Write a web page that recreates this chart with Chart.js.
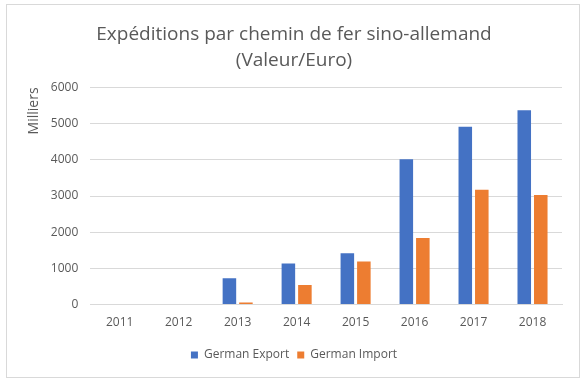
<!DOCTYPE html>
<html>
<head>
<meta charset="utf-8">
<script src="https://cdn.jsdelivr.net/npm/chart.js@4"></script>
<style>
    html, body { margin: 0; padding: 0; background: #fff; }
    #wrap { position: relative; width: 585px; height: 382px; }
    #frame {
        position: absolute; left: 6px; top: 4px; width: 572px; height: 372px;
        border: 1px solid #d9d9d9; pointer-events: none;
    }
</style>
</head>
<body>
<div id="wrap">
    <canvas id="chart" width="585" height="382"></canvas>
    <div id="frame"></div>
</div>
<script>
// Years on the x axis
const years = ['2011', '2012', '2013', '2014', '2015', '2016', '2017', '2018'];

// Values in thousands of euros
const germanExport = [null, null, 730, 1135, 1420, 4015, 4915, 5370];
const germanImport = [null, null, 55, 540, 1190, 1840, 3175, 3030];

const titleLines = ['Expéditions par chemin de fer sino-allemand', '(Valeur/Euro)'];
const yAxisTitle = 'Milliers';

const textColor = '#595959';
const fontFamily = '"Open Sans", sans-serif';

document.addEventListener('DOMContentLoaded', () => {
    const ctx = document.getElementById('chart');

    new Chart(ctx, {
        type: 'bar',
        data: {
            labels: years,
            datasets: [
                {
                    label: 'German Export',
                    data: germanExport,
                    backgroundColor: '#4472c4',
                    categoryPercentage: 0.56,
                    barPercentage: 0.82
                },
                {
                    label: 'German Import',
                    data: germanImport,
                    backgroundColor: '#ed7d31',
                    categoryPercentage: 0.56,
                    barPercentage: 0.82
                }
            ]
        },
        options: {
            responsive: false,
            animation: false,
            layout: { padding: { left: 26, right: 23, top: 0, bottom: 11 } },
            plugins: {
                title: {
                    display: true,
                    text: titleLines,
                    color: textColor,
                    font: { family: fontFamily, size: 19, weight: 'normal', lineHeight: 1.38 },
                    padding: { top: 21, bottom: 14 }
                },
                legend: {
                    position: 'bottom',
                    labels: {
                        color: textColor,
                        font: { family: fontFamily, size: 12 },
                        boxWidth: 7,
                        boxHeight: 7,
                        padding: 8
                    }
                },
                tooltip: { enabled: false }
            },
            scales: {
                x: {
                    grid: { display: false, drawTicks: false },
                    border: { color: '#d9d9d9' },
                    ticks: { color: textColor, font: { family: fontFamily, size: 12 }, padding: 11 }
                },
                y: {
                    min: 0,
                    max: 6000,
                    ticks: {
                        stepSize: 1000,
                        color: textColor,
                        font: { family: fontFamily, size: 12 },
                        padding: 12,
                        callback: value => String(value)
                    },
                    grid: { color: '#d9d9d9', drawTicks: false },
                    border: { display: false },
                    title: {
                        display: true,
                        text: yAxisTitle,
                        align: 'end',
                        color: textColor,
                        font: { family: fontFamily, size: 14 },
                        padding: { top: 0, bottom: -4 }
                    }
                }
            }
        }
    });
});
</script>
</body>
</html>
